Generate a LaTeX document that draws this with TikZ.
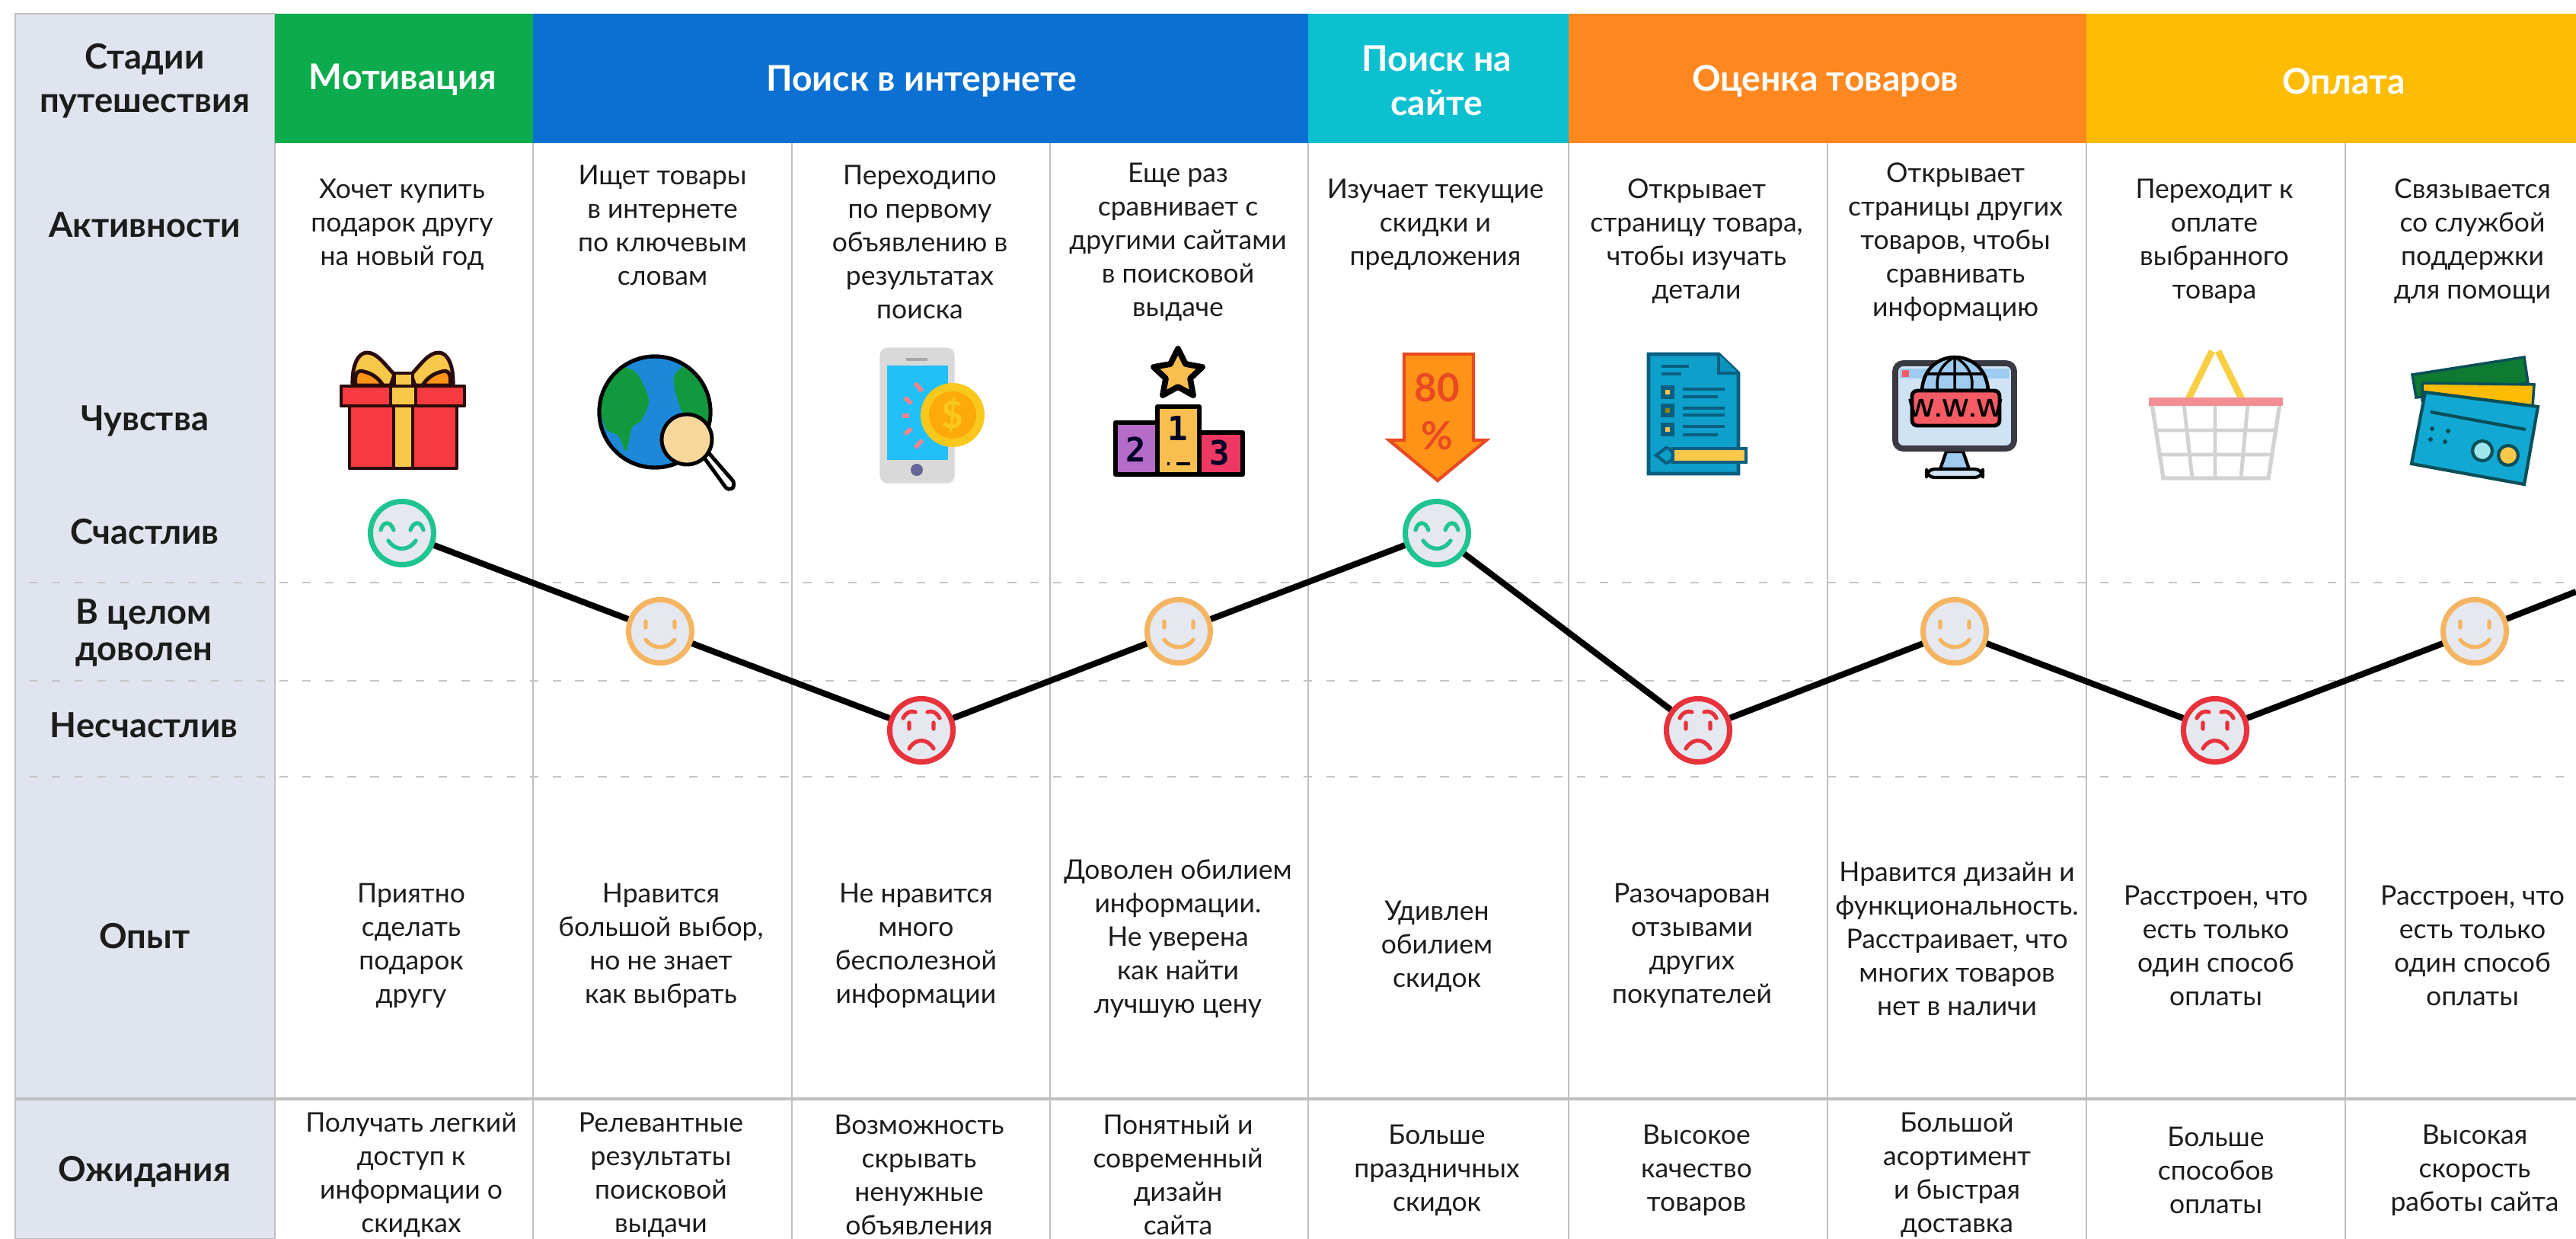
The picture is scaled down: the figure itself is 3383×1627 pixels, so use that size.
\documentclass[tikz,border=0pt]{standalone}
\usepackage{fontspec}
\setmainfont{Lato}
\newfontfamily\digitfont{DejaVu Sans Mono}
\definecolor{panel}{HTML}{E0E4EE}
\definecolor{rule}{HTML}{BFBFBF}
\definecolor{dashrule}{HTML}{C6C6C6}
\definecolor{ink}{HTML}{1C1C1C}
\definecolor{stgreen}{HTML}{0CAB4D}
\definecolor{stblue}{HTML}{0B70D2}
\definecolor{stcyan}{HTML}{0CC0D0}
\definecolor{storange}{HTML}{FF8720}
\definecolor{styellow}{HTML}{FFBC05}
\definecolor{facefill}{HTML}{E6E8EF}
\definecolor{happy}{HTML}{1FC490}
\definecolor{okay}{HTML}{F4B562}
\definecolor{sad}{HTML}{E8323C}
\definecolor{giftred}{HTML}{F53A40}
\definecolor{giftline}{HTML}{2A0C0C}
\definecolor{gold}{HTML}{F7C84A}
\definecolor{globeblue}{HTML}{1E88D8}
\definecolor{globegreen}{HTML}{12993E}
\definecolor{lens}{HTML}{F7D79B}
\definecolor{phonegrey}{HTML}{D9D9D9}
\definecolor{screen}{HTML}{22C0F8}
\definecolor{coinrim}{HTML}{F8C81C}
\definecolor{coinface}{HTML}{FCA90A}
\definecolor{podpurple}{HTML}{B56CC8}
\definecolor{podyellow}{HTML}{F8BE50}
\definecolor{podred}{HTML}{EE3864}
\definecolor{arrowred}{HTML}{E84A22}
\definecolor{arroworange}{HTML}{FF9318}
\definecolor{docblue}{HTML}{0E9FCB}
\definecolor{docdark}{HTML}{0A5F80}
\definecolor{monitor}{HTML}{3A3A42}
\definecolor{monscreen}{HTML}{CFE3F5}
\definecolor{monblue}{HTML}{9FCBF0}
\definecolor{signred}{HTML}{F45B65}
\definecolor{cardblue}{HTML}{12A8D4}
\definecolor{carddark}{HTML}{0A4F58}
\tikzset{
  cell/.style={align=center,inner sep=0pt,text=ink,font=\fontsize{10.1}{12.5}\selectfont},
  rowlabel/.style={align=center,inner sep=0pt,text=ink,font=\bfseries\fontsize{12.9}{16.2}\selectfont},
  stage/.style={align=center,inner sep=0pt,text=white,font=\bfseries\fontsize{13.2}{16.4}\selectfont},
  gridline/.style={draw=rule,line width=0.7pt},
  dashline/.style={draw=dashrule,line width=0.8pt,dash pattern=on 3.2pt off 5.3pt},
  face/.style={circle,draw,fill=facefill,line width=2pt,minimum size=0.83cm,inner sep=0pt},
  moodline/.style={line width=2.3pt},
  feature/.style={line width=1.5pt,line cap=round},
  icon/.style={draw=black,line width=1.4pt,line join=round},
  giftpart/.style={draw=giftline,line width=1.4pt,line join=round},
  icontext/.style={inner sep=0pt,font=\bfseries\sffamily},
  poddigit/.style={inner sep=0pt,text=black!85!blue,font=\digitfont\bfseries\fontsize{12.5}{12.5}\selectfont}
}
\begin{document}
\begin{tikzpicture}[x=0.01cm,y=-0.01cm]
  \useasboundingbox (0,0) rectangle (3383,1627);
  % left panel and stage bars
  \draw[fill=panel,draw=rule,line width=0.5pt] (20,18) rectangle (361,1627);
  \fill[stgreen] (361,18) rectangle (700,188);
  \fill[stblue] (700,18) rectangle (1718,188);
  \fill[stcyan] (1718,18) rectangle (2060,188);
  \fill[storange] (2060,18) rectangle (2740,188);
  \fill[styellow] (2740,18) rectangle (3383,188);
  % grid
  \draw[gridline] (361,188) -- (361,1627);
  \draw[gridline] (700,188) -- (700,1627);
  \draw[gridline] (1040,188) -- (1040,1627);
  \draw[gridline] (1379,188) -- (1379,1627);
  \draw[gridline] (1718,188) -- (1718,1627);
  \draw[gridline] (2060,188) -- (2060,1627);
  \draw[gridline] (2400,188) -- (2400,1627);
  \draw[gridline] (2740,188) -- (2740,1627);
  \draw[gridline] (3080,188) -- (3080,1627);
  \draw[gridline,line width=0.9pt] (20,1443) -- (3383,1443);
  \draw[dashline] (38,765) -- (3383,765);
  \draw[dashline] (38,894) -- (3383,894);
  \draw[dashline] (38,1020) -- (3383,1020);
  % row labels
  \node[rowlabel] (lstage) at (190,106) {Стадии\\путешествия};
  \node[rowlabel] (lact) at (190,295) {Активности};
  \node[rowlabel] (lfeel) at (190,553) {Чувства};
  \node[rowlabel] (lhappy) at (190,698) {Счастлив};
  \node[rowlabel,font=\bfseries\fontsize{12.9}{13.5}\selectfont] (lokay) at (189,831) {В целом\\доволен};
  \node[rowlabel] (lsad) at (189,952) {Несчастлив};
  \node[rowlabel] (lexp) at (190,1229) {Опыт};
  \node[rowlabel] (lwait) at (190,1539) {Ожидания};
  % stages
  \node[stage] (smot) at (529,105) {Мотивация};
  \node[stage] (snet) at (1210,107) {Поиск в интернете};
  \node[stage] (ssite) at (1887,106) {Поиск на\\сайте};
  \node[stage] (seval) at (2397,107) {Оценка товаров};
  \node[stage] (spay) at (3078,107) {Оплата};
  % activities
  \node[cell] (act1) at (528,295) {Хочет купить\\подарок другу\\на новый год};
  \node[cell] (act2) at (870,296) {Ищет товары\\в интернете\\по ключевым\\словам};
  \node[cell] (act3) at (1208,318) {Переходипо\\по первому\\объявлению в\\результатах\\поиска};
  \node[cell] (act4) at (1547,318) {Еще раз\\сравнивает с\\другими сайтами\\в поисковой\\выдаче};
  \node[cell] (act5) at (1885,295) {Изучает текущие\\скидки и\\предложения};
  \node[cell] (act6) at (2228,317) {Открывает\\страницу товара,\\чтобы изучать\\детали};
  \node[cell] (act7) at (2568,318) {Открывает\\страницы других\\товаров, чтобы\\сравнивать\\информацию};
  \node[cell] (act8) at (2908,317) {Переходит к\\оплате\\выбранного\\товара};
  \node[cell] (act9) at (3247,317) {Связывается\\со службой\\поддержки\\для помощи};
  % experience
  \node[cell] (exp1) at (540,1242) {Приятно\\сделать\\подарок\\другу};
  \node[cell] (exp2) at (868,1242) {Нравится\\большой выбор,\\но не знает\\как выбрать};
  \node[cell] (exp3) at (1203,1242) {Не нравится\\много\\бесполезной\\информации};
  \node[cell] (exp4) at (1547,1233) {Доволен обилием\\информации.\\Не уверена\\как найти\\лучшую цену};
  \node[cell] (exp5) at (1887,1243) {Удивлен\\обилием\\скидок};
  \node[cell] (exp6) at (2222,1242) {Разочарован\\отзывами\\других\\покупателей};
  \node[cell] (exp7) at (2570,1233) {Нравится дизайн и\\функциональность.\\Расстраивает, что\\многих товаров\\нет в наличи};
  \node[cell] (exp8) at (2910,1242) {Расстроен, что\\есть только\\один способ\\оплаты};
  \node[cell] (exp9) at (3247,1242) {Расстроен, что\\есть только\\один способ\\оплаты};
  % expectations
  \node[cell] (wait1) at (540,1543) {Получать легкий\\доступ к\\информации о\\скидках};
  \node[cell] (wait2) at (868,1543) {Релевантные\\результаты\\поисковой\\выдачи};
  \node[cell] (wait3) at (1207,1543) {Возможность\\скрывать\\ненужные\\объявления};
  \node[cell] (wait4) at (1547,1543) {Понятный и\\современный\\дизайн\\сайта};
  \node[cell] (wait5) at (1887,1537) {Больше\\праздничных\\скидок};
  \node[cell] (wait6) at (2228,1537) {Высокое\\качество\\товаров};
  \node[cell] (wait7) at (2570,1543) {Большой\\асортимент\\и быстрая\\доставка};
  \node[cell] (wait8) at (2910,1537) {Больше\\способов\\оплаты};
  \node[cell] (wait9) at (3250,1537) {Высокая\\скорость\\работы сайта};
  % gift
  \draw[giftpart,fill=gold] (518,492) .. controls (505,478) and (495,463) .. (482,463) .. controls (470,463) and (462,480) .. (463,506) -- (513,506) -- cycle;
  \draw[giftpart,fill=arroworange] (467,506) .. controls (465,490) and (470,485) .. (478,488) .. controls (488,490) and (498,497) .. (503,506) -- cycle;
  \draw[giftpart,fill=gold] (540,492) .. controls (553,478) and (563,463) .. (576,463) .. controls (588,463) and (596,480) .. (595,506) -- (545,506) -- cycle;
  \draw[giftpart,fill=arroworange] (591,506) .. controls (593,490) and (588,485) .. (580,488) .. controls (570,490) and (560,497) .. (555,506) -- cycle;
  \draw[giftpart,fill=gold] (518,490) rectangle (542,507);
  \draw[giftpart,fill=giftred] (459,533) rectangle (600,615);
  \draw[giftpart,fill=gold] (517,533) rectangle (542,615);
  \draw[giftpart,fill=giftred] (448,507) rectangle (610,533);
  \draw[giftpart,fill=gold] (513,507) rectangle (546,533);
  % globe and lens
  \draw[icon,fill=globeblue] (860,541) circle (73);
  \begin{scope}
    \clip (860,541) circle (72);
    \fill[globegreen] plot[smooth cycle] coordinates {(788,520) (812,484) (836,490) (852,525) (842,552) (830,562) (822,592) (812,572) (795,562)};
    \fill[globegreen] plot[smooth cycle] coordinates {(885,495) (905,478) (930,500) (938,540) (925,556) (900,548) (890,525)};
  \end{scope}
  \draw[icon] (860,541) circle (73);
  \draw[icon,fill=white] (924,600) -- (931,595) -- (963,632) .. controls (966,642) and (958,645) .. (953,640) -- cycle;
  \draw[icon,fill=lens] (902,577) circle (33);
  % phone and coin
  \draw[fill=phonegrey,draw=phonegrey] (1156,470) .. controls (1156,460) and (1160,457) .. (1168,457) -- (1241,457) .. controls (1250,457) and (1253,460) .. (1253,470) -- (1253,622) .. controls (1253,631) and (1250,634) .. (1241,634) -- (1168,634) .. controls (1160,634) and (1156,631) .. (1156,622) -- cycle;
  \fill[screen] (1165,480) rectangle (1245,604);
  \fill[gray!70] (1190,470) rectangle (1218,474);
  \fill[gray!80!blue] (1204,617) circle (8);
  \draw[sad!60,line width=1.6pt] (1202,503) -- (1211,514);
  \draw[sad!60,line width=1.6pt] (1188,522) -- (1197,530);
  \draw[sad!60,line width=1.6pt] (1185,546) -- (1194,546);
  \draw[sad!60,line width=1.6pt] (1188,570) -- (1197,563);
  \draw[sad!60,line width=1.6pt] (1202,588) -- (1211,578);
  \fill[coinrim] (1251,545) circle (42);
  \fill[coinface] (1251,545) circle (31);
  \node[inner sep=0pt,text=coinrim,font=\bfseries\fontsize{14}{14}\selectfont] (dollar) at (1251,545) {\$};
  % podium
  \draw[icon,line width=2.2pt,fill=podyellow] (1547,458) -- (1557,478) -- (1579,482) -- (1563,497) -- (1567,519) -- (1547,508) -- (1527,519) -- (1531,497) -- (1515,482) -- (1537,478) -- cycle;
  \draw[icon,line width=1.8pt,fill=podpurple] (1465,555) rectangle (1520,623);
  \draw[icon,line width=1.8pt,fill=podred] (1575,568) rectangle (1632,623);
  \draw[icon,line width=1.8pt,fill=podyellow] (1520,534) rectangle (1575,623);
  \node[poddigit] (second) at (1492,590) {2};
  \node[poddigit] (first) at (1547,562) {1};
  \node[poddigit] (third) at (1602,594) {3};
  \draw[line width=1.2pt] (1533,609) -- (1536,609) (1545,609) -- (1563,609);
  % discount arrow
  \draw[draw=arrowred,fill=arroworange,line width=1.2pt,line join=miter] (1844,465) -- (1935,465) -- (1935,578) -- (1952,578) -- (1888,631) -- (1824,578) -- (1844,578) -- cycle;
  \node[icontext,text=arrowred,font=\bfseries\fontsize{14.5}{14.5}\selectfont] (sale) at (1887,509) {80};
  \node[icontext,text=arrowred,font=\bfseries\fontsize{14.5}{14.5}\selectfont] (percent) at (1887,572) {\%};
  % document
  \draw[draw=docdark,fill=docblue,line width=1.4pt] (2165,465) -- (2257,465) -- (2283,490) -- (2283,622) -- (2165,622) -- cycle;
  \draw[draw=docdark,fill=docblue!80!docdark,line width=1pt] (2257,465) -- (2257,490) -- (2283,490);
  \draw[docdark,line width=1.1pt] (2182,481) -- (2218,481) (2182,491) -- (2208,491);
  \draw[draw=docdark,fill=gold,line width=1.5pt] (2184,509) rectangle (2196,521);
  \draw[draw=docdark,fill=olive,line width=1.5pt] (2184,533) rectangle (2196,545);
  \draw[draw=docdark,fill=gold,line width=1.5pt] (2184,558) rectangle (2196,570);
  \draw[docdark,line width=1.1pt] (2210,511) -- (2265,511) (2210,521) -- (2256,521) (2210,536) -- (2265,536) (2210,545) -- (2265,545) (2210,560) -- (2265,560) (2210,571) -- (2256,571);
  \draw[draw=docdark,fill=gold,line width=1.2pt] (2197,589) rectangle (2293,607);
  \draw[draw=docdark,fill=docblue,line width=1.2pt] (2175,598) -- (2188,588) .. controls (2200,590) and (2200,606) .. (2188,608) -- cycle;
  % monitor
  \draw[icon,fill=monblue,line width=1.2pt] (2556,593) -- (2578,593) -- (2586,616) -- (2548,616) -- cycle;
  \draw[icon,fill=monscreen,line width=1.2pt,rounded corners=3pt] (2530,616) rectangle (2604,627);
  \draw[draw=monitor,fill=monscreen,line width=2.2pt,rounded corners=3pt] (2489,477) rectangle (2645,589);
  \fill[monblue] (2495,484) rectangle (2639,497);
  \fill[signred] (2498,486) rectangle (2507,495);
  \draw[icon,fill=monblue,line width=1.3pt] (2524,513) .. controls (2526,480) and (2550,469) .. (2567,469) .. controls (2585,469) and (2609,480) .. (2611,513) -- cycle;
  \draw[black,line width=1pt] (2567,469) -- (2567,513) (2567,469) .. controls (2545,480) and (2542,500) .. (2545,513) (2567,469) .. controls (2589,480) and (2592,500) .. (2589,513) (2530,491) -- (2605,491);
  \draw[icon,fill=signred,line width=1.4pt,rounded corners=2pt] (2511,513) rectangle (2626,559);
  \node[icontext,text=black,font=\bfseries\sffamily\fontsize{9.5}{9.5}\selectfont] (www) at (2568,536) {W.W.W};
  % basket
  \draw[rule!70,line width=1.5pt] (2826,530) -- (2841,628) -- (2979,628) -- (2994,530);
  \draw[rule!70,line width=1.4pt] (2868,530) -- (2879,628) (2909,530) -- (2909,628) (2952,530) -- (2943,628) (2833,565) -- (2987,565) (2837,597) -- (2983,597);
  \draw[gold!90!yellow,line width=2.5pt] (2871,530) -- (2905,461) (2947,530) -- (2913,461);
  \fill[sad!55] (2822,522) rectangle (2998,533);
  % cards
  \draw[draw=carddark,fill=globegreen!80!black,line width=1pt] (3168,492) -- (3315,469) -- (3320,503) -- (3173,522) -- cycle;
  \draw[draw=carddark,fill=styellow,line width=1pt] (3181,503) -- (3328,505) -- (3326,534) -- (3181,526) -- cycle;
  \draw[draw=carddark,fill=cardblue,line width=1.2pt] (3185,515) -- (3333,534) -- (3315,636) -- (3167,609) -- cycle;
  \draw[carddark,line width=1.2pt] (3192,541) -- (3317,564);
  \fill[carddark] (3194,563) circle (3) (3215,566) circle (3) (3192,577) circle (3) (3211,580) circle (3);
  \draw[draw=carddark,fill=stcyan!40,line width=1.2pt] (3260,592) circle (13);
  \draw[draw=carddark,fill=gold,line width=1.2pt] (3294,598) circle (13);
  % mood line
  \node[face,draw=happy] (m1) at (528,700) {};
  \node[face,draw=okay] (m2) at (867,829) {};
  \node[face,draw=sad] (m3) at (1210,959) {};
  \node[face,draw=okay] (m4) at (1548,829) {};
  \node[face,draw=happy] (m5) at (1887,700) {};
  \node[face,draw=sad] (m6) at (2230,959) {};
  \node[face,draw=okay] (m7) at (2567,829) {};
  \node[face,draw=sad] (m8) at (2909,959) {};
  \node[face,draw=okay] (m9) at (3250,829) {};
  \coordinate (mend) at (3383,777);
  \draw[moodline] (m1) -- (m2);
  \draw[moodline] (m2) -- (m3);
  \draw[moodline] (m3) -- (m4);
  \draw[moodline] (m4) -- (m5);
  \draw[moodline] (m5) -- (m6);
  \draw[moodline] (m6) -- (m7);
  \draw[moodline] (m7) -- (m8);
  \draw[moodline] (m8) -- (m9);
  \draw[moodline] (m9) -- (mend);
  % faces
  \draw[shift={(m1)},feature,happy] (-28,-4) .. controls (-25,-16) and (-15,-16) .. (-11,-4) (11,-4) .. controls (15,-16) and (25,-16) .. (28,-4) (-18,10) .. controls (-8,24) and (8,24) .. (18,10);
  \draw[shift={(m5)},feature,happy] (-28,-4) .. controls (-25,-16) and (-15,-16) .. (-11,-4) (11,-4) .. controls (15,-16) and (25,-16) .. (28,-4) (-18,10) .. controls (-8,24) and (8,24) .. (18,10);
  \draw[shift={(m2)},feature,okay] (-19,-13) -- (-19,-5) (19,-13) -- (19,-5) (-19,11) .. controls (-10,24) and (10,24) .. (19,11);
  \draw[shift={(m4)},feature,okay] (-19,-13) -- (-19,-5) (19,-13) -- (19,-5) (-19,11) .. controls (-10,24) and (10,24) .. (19,11);
  \draw[shift={(m7)},feature,okay] (-19,-13) -- (-19,-5) (19,-13) -- (19,-5) (-19,11) .. controls (-10,24) and (10,24) .. (19,11);
  \draw[shift={(m9)},feature,okay] (-19,-13) -- (-19,-5) (19,-13) -- (19,-5) (-19,11) .. controls (-10,24) and (10,24) .. (19,11);
  \draw[shift={(m3)},feature,sad] (-24,-16) .. controls (-20,-24) and (-14,-26) .. (-8,-24) (24,-16) .. controls (20,-24) and (14,-26) .. (8,-24) (-16,-10) -- (-16,-2) (16,-10) -- (16,-2) (-16,24) .. controls (-8,10) and (8,10) .. (16,24);
  \draw[shift={(m6)},feature,sad] (-24,-16) .. controls (-20,-24) and (-14,-26) .. (-8,-24) (24,-16) .. controls (20,-24) and (14,-26) .. (8,-24) (-16,-10) -- (-16,-2) (16,-10) -- (16,-2) (-16,24) .. controls (-8,10) and (8,10) .. (16,24);
  \draw[shift={(m8)},feature,sad] (-24,-16) .. controls (-20,-24) and (-14,-26) .. (-8,-24) (24,-16) .. controls (20,-24) and (14,-26) .. (8,-24) (-16,-10) -- (-16,-2) (16,-10) -- (16,-2) (-16,24) .. controls (-8,10) and (8,10) .. (16,24);
\end{tikzpicture}
\end{document}
